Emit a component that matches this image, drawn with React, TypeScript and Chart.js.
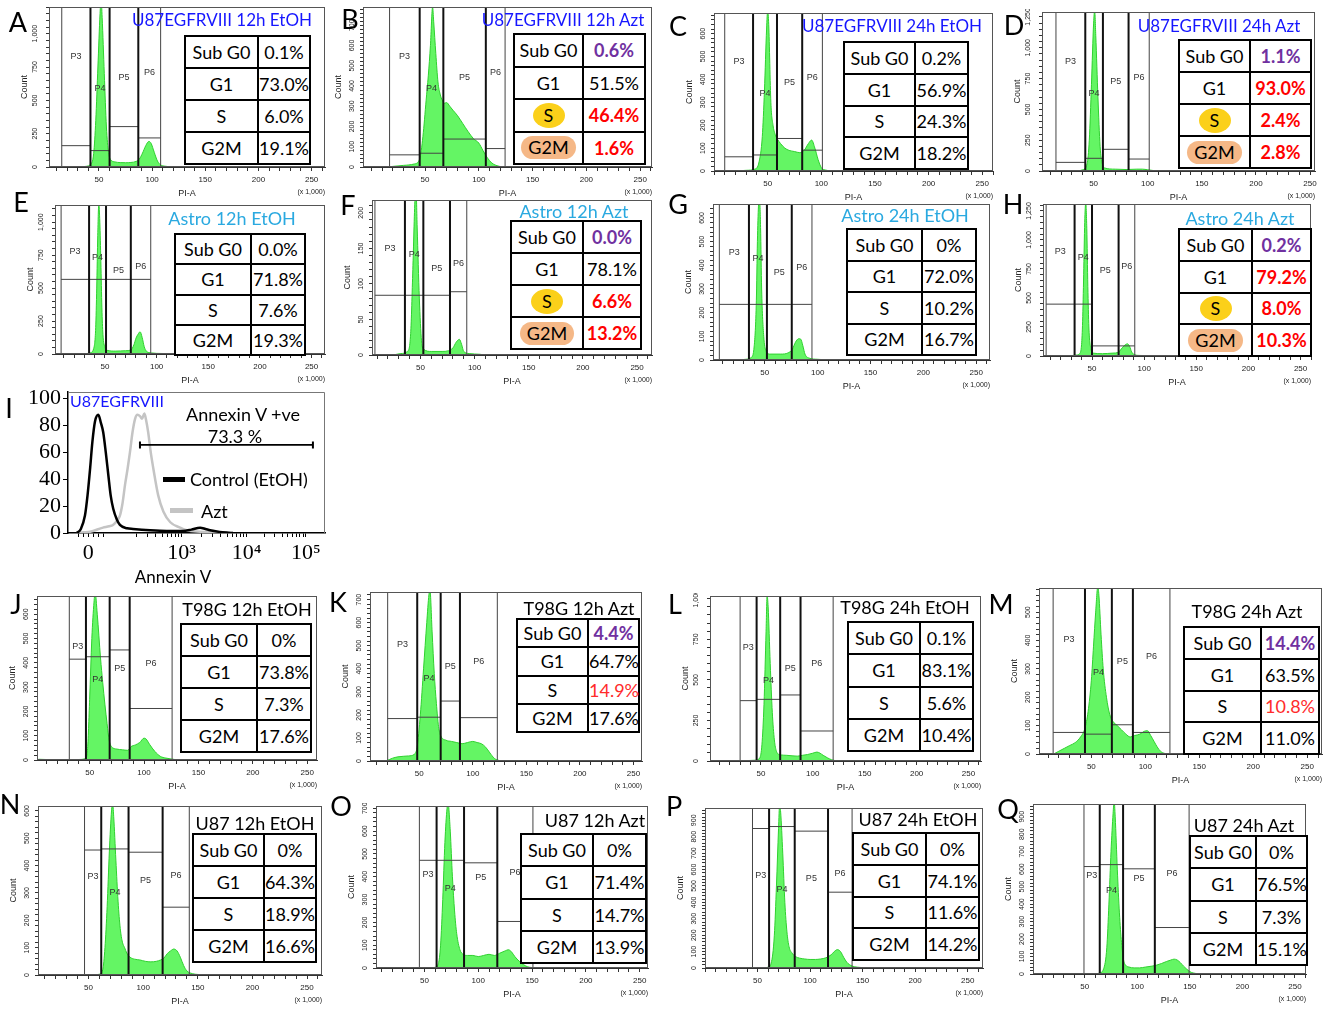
import React, { useEffect, useRef } from 'react';
import { Chart, registerables } from 'chart.js';

Chart.register(...registerables);

const SANS = "'Liberation Sans', Arial, sans-serif";
const LATO = "Lato, 'Open Sans', sans-serif";
const SERIF = "'Liberation Serif', 'Times New Roman', serif";
const BLUE = '#1616ff';
const SKY = '#2aa9e0';

const PHASES = ['Sub G0', 'G1', 'S', 'G2M'];
const GATE_NAMES = ['P3', 'P4', 'P5', 'P6'];
const X_TICKS = [0, 10, 20, 30, 40, 50, 60, 70, 80, 90, 100, 110, 120, 130, 140, 150, 160, 170, 180, 190, 200, 210, 220, 230, 240, 250, 260];

// ---------- histograms: [PI-A (x1000), count] ----------
const HIST_A = [[30,0],[38,5],[42,20],[45,100],[47,350],[49,750],[51,1150],[52,1260],[53,1120],[55,700],[57,300],[59,110],[61,55],[65,38],[70,33],[75,32],[80,34],[85,42],[88,60],[91,105],[94,160],[97,192],[99,178],[102,110],[105,45],[108,16],[112,6],[118,2],[125,0]];
const HIST_B = [[15,0],[20,3],[30,8],[40,15],[45,40],[48,150],[51,330],[53,450],[55,600],[57,790],[58,720],[60,560],[62,420],[64,360],[66,330],[68,315],[70,318],[73,300],[76,280],[80,255],[85,215],[90,175],[95,140],[100,118],[104,80],[108,45],[112,20],[116,8],[122,0]];
const HIST_C = [[20,0],[30,3],[38,8],[42,40],[45,150],[47,350],[49,620],[50,700],[51,640],[53,300],[55,200],[57,160],[59,140],[62,120],[66,100],[70,90],[75,85],[80,80],[84,90],[88,120],[91,135],[94,100],[97,50],[100,15],[104,4],[110,0]];
const HIST_D = [[35,0],[40,10],[44,60],[46,250],[48,700],[50,1200],[51,1300],[52,1100],[54,600],[56,200],[58,60],[60,25],[70,15],[80,12],[90,15],[95,15],[100,10],[105,4],[112,0]];
const HIST_E = [[25,0],[32,3],[36,10],[39,40],[41,200],[42,500],[43,900],[44,1140],[45,1000],[46,700],[47,350],[48,150],[50,50],[52,28],[60,22],[70,25],[75,30],[78,70],[80,120],[82,150],[84,168],[86,125],[88,55],[90,22],[95,8],[105,4],[115,2],[125,0]];
const HIST_F = [[25,0],[32,2],[38,5],[41,30],[43,120],[45,220],[46,230],[47,180],[49,80],[51,20],[53,8],[60,5],[70,5],[76,6],[80,10],[83,18],[86,22],[88,15],[90,5],[95,2],[105,1],[110,0]];
const HIST_G = [[25,0],[32,3],[37,10],[40,60],[42,250],[43,500],[44,650],[45,680],[46,560],[47,300],[49,100],[51,40],[55,25],[65,25],[72,30],[76,45],[79,75],[82,90],[84,88],[86,60],[88,25],[92,8],[100,3],[110,0]];
const HIST_H = [[25,0],[30,3],[35,8],[38,20],[40,100],[41,300],[42,700],[43,1150],[44,1320],[45,1100],[46,600],[47,250],[49,60],[51,25],[60,20],[70,25],[75,30],[78,60],[81,90],[84,105],[86,85],[88,35],[91,10],[95,5],[105,3],[112,0]];
const HIST_J = [[3,3],[10,2],[20,1],[40,2],[46,5],[48,40],[50,250],[52,500],[54,650],[55,690],[57,600],[60,420],[62,320],[64,230],[66,150],[68,80],[70,55],[75,45],[80,42],[85,40],[88,55],[92,62],[96,72],[100,90],[102,86],[105,65],[110,35],[115,15],[120,8],[125,4],[130,1],[135,0]];
const HIST_K = [[20,2],[25,12],[30,18],[40,22],[45,28],[48,60],[51,200],[54,400],[57,600],[59,720],[60,740],[62,560],[64,380],[66,250],[68,150],[70,110],[75,90],[80,85],[85,80],[90,75],[95,80],[100,85],[104,80],[108,75],[112,60],[116,35],[120,12],[124,3],[128,0]];
const HIST_L = [[25,0],[35,2],[45,5],[49,20],[51,100],[53,350],[55,800],[56,1020],[57,950],[59,600],[61,300],[63,130],[65,60],[68,40],[75,35],[80,32],[85,30],[90,35],[95,40],[100,48],[104,55],[107,48],[110,35],[114,20],[118,8],[122,2],[126,0]];
const HIST_M = [[15,0],[20,10],[25,20],[30,30],[35,40],[40,60],[44,90],[47,150],[50,260],[52,380],[54,500],[56,590],[57,560],[59,420],[61,300],[64,200],[67,140],[70,115],[74,100],[78,85],[82,70],[86,60],[90,65],[95,70],[99,80],[102,82],[105,65],[108,45],[111,25],[114,10],[118,2],[122,0]];
const HIST_N = [[55,0],[60,3],[63,20],[65,100],[67,250],[69,450],[71,600],[72,630],[73,580],[75,420],[77,270],[79,170],[81,120],[83,100],[85,80],[88,65],[92,58],[97,55],[102,50],[107,48],[112,50],[116,55],[119,62],[122,78],[125,88],[128,95],[131,88],[134,65],[137,35],[140,15],[145,5],[150,2],[158,1],[162,0]];
const HIST_O = [[55,0],[60,3],[63,20],[65,100],[67,300],[69,550],[71,700],[72,720],[74,600],[76,400],[78,250],[80,150],[83,80],[86,60],[90,55],[95,55],[100,50],[105,55],[110,60],[115,55],[120,65],[125,75],[128,80],[131,70],[134,50],[138,30],[142,15],[146,5],[150,2],[155,0]];
const HIST_P = [[55,0],[60,5],[63,30],[66,200],[68,500],[70,850],[71,990],[72,950],[74,700],[76,400],[78,220],[80,130],[83,90],[86,70],[90,60],[95,55],[100,52],[105,52],[110,55],[115,62],[120,80],[123,100],[126,112],[129,100],[132,65],[135,35],[140,12],[145,5],[150,2],[158,0]];
const HIST_Q = [[60,0],[64,5],[68,30],[71,150],[73,400],[75,700],[77,920],[78,990],[79,900],[81,600],[83,350],[85,180],[87,80],[89,50],[92,40],[97,35],[102,35],[108,40],[114,45],[118,50],[123,60],[128,72],[132,80],[135,85],[138,80],[141,65],[144,45],[147,28],[150,14],[153,6],[158,2],[165,0]];

// ---------- gates P3..P6: [from, to, level] ----------
const GATES_A = [[15,42,160],[42,60,123],[60,87,303],[87,108,218]];
const GATES_B = [[17,45,60],[45,67,68],[67,106.5,138],[106.5,124.4,91]];
const GATES_C = [[10,36.4,62],[36.4,58.7,70],[58.7,82.2,142],[82.2,101,91]];
const GATES_D = [[15.2,42.3,70],[42.3,58.6,103],[58.6,82.3,176],[82.3,101.4,97]];
const GATES_E = [[7.5,34.6,566],[34.6,51,566],[51,75,566],[75,94.3,566]];
const GATES_F = [[8,35.7,84],[35.7,52.7,84],[52.7,77.3,84],[77.3,92.8,89]];
const GATES_G = [[7,35,235],[35,52,235],[52,75.5,235],[75.5,94.6,235]];
const GATES_H = [[6,33.3,447],[33.3,50,447],[50,75.5,87],[75.5,91,87]];
const GATES_J = [[31.3,46.6,415],[46.6,68.4,425],[68.4,86.8,453],[86.8,125.8,212]];
const GATES_K = [[20.5,48.1,184],[48.1,70,190],[70,88,260],[88,122.9,188]];
const GATES_L = [[30,45.9,372],[45.9,68.6,380],[68.6,88.2,407],[88.2,119.6,185]];
const GATES_M = [[14.6,44.1,76],[44.1,69,70],[69,88.5,103],[88.5,122.8,76]];
const GATES_N = [[46.3,61.6,457],[61.6,86.6,461],[86.6,117.8,449],[117.8,142.2,248]];
const GATES_O = [[45.3,61.3,472],[61.3,86.8,472],[86.8,117.7,461],[117.7,150.8,204]];
const GATES_P = [[45.2,61,850],[61,85.4,862],[85.4,117.1,834],[117.1,140,462]];
const GATES_Q = [[49.3,64.3,615],[64.3,86.5,626],[86.5,116.7,602],[116.7,149.3,266]];

// ---------- table values (Sub G0, G1, S, G2M) ----------
const VALS_A = ['0.1%', '73.0%', '6.0%', '19.1%'];
const VALS_B = ['0.6%', '51.5%', '46.4%', '1.6%'];
const VALS_C = ['0.2%', '56.9%', '24.3%', '18.2%'];
const VALS_D = ['1.1%', '93.0%', '2.4%', '2.8%'];
const VALS_E = ['0.0%', '71.8%', '7.6%', '19.3%'];
const VALS_F = ['0.0%', '78.1%', '6.6%', '13.2%'];
const VALS_G = ['0%', '72.0%', '10.2%', '16.7%'];
const VALS_H = ['0.2%', '79.2%', '8.0%', '10.3%'];
const VALS_J = ['0%', '73.8%', '7.3%', '17.6%'];
const VALS_K = ['4.4%', '64.7%', '14.9%', '17.6%'];
const VALS_L = ['0.1%', '83.1%', '5.6%', '10.4%'];
const VALS_M = ['14.4%', '63.5%', '10.8%', '11.0%'];
const VALS_N = ['0%', '64.3%', '18.9%', '16.6%'];
const VALS_O = ['0%', '71.4%', '14.7%', '13.9%'];
const VALS_P = ['0%', '74.1%', '11.6%', '14.2%'];
const VALS_Q = ['0%', '76.5%', '7.3%', '15.1%'];

// ---------- Annexin V overlay (x in display channel units 0..1000, y % of max) ----------
const ANNEX_CONTROL = [[34,0],[50,3],[66,13],[76,28],[86,48],[95,68],[105,83],[118,88],[128,82],[137,75],[147,60],[157,43],[166,28],[176,18],[190,10],[202,6],[230,3.5],[253,3],[319,2],[384,1.5],[447,1.5],[480,2.5],[514,4],[535,3],[553,2],[590,0.8],[617,0.3],[642,0]];
const ANNEX_AZT = [[34,0],[60,0.5],[86,1],[136,4],[160,5],[175,6],[190,9],[202,13],[212,22],[222,36],[232,48],[241,60],[251,75],[261,85],[270,88],[280,87],[288,85],[297,89],[304,84],[312,75],[322,60],[332,48],[351,28],[371,16],[398,8],[436,4],[462,2],[514,1],[579,0.5],[642,0]];
const ANNEX_BAR = [280, 953];
const ANNEX_BAR_LEVEL = 65.6;
const ANNEX_MAJOR = [79, 442, 695, 925];
const ANNEX_LABELS = ['0', '10\u00b3', '10\u2074', '10\u2075'];
const ANNEX_Y_TICKS = [0, 20, 40, 60, 80, 100];

// ---------- layout ----------
const LAB_TOP = [0.31, 0.51, 0.44, 0.41];
const LAB_ASTRO = [0.31, 0.35, 0.44, 0.41];
const LAB_U87 = [0.42, 0.51, 0.44, 0.41];

const FLOWS = [
  { id: 'A', box: [49, 7, 325, 167], xr: [3, 262.6], ymax: 1200, ystep: 250, hist: HIST_A, gates: GATES_A, lab: LAB_TOP, title: 'U87EGFRVIII 12h EtOH', tcolor: BLUE, tpos: [222, 19], tsize: 17, tbox: [184, 35, 311, 163], tcol: 257, vals: VALS_A, vstyle: 'nnnn', hl: false },
  { id: 'B', box: [363, 7, 652, 167], xr: [-7.7, 261], ymax: 790, ystep: 100, hist: HIST_B, gates: GATES_B, lab: LAB_TOP, title: 'U87EGFRVIII 12h Azt', tcolor: BLUE, tpos: [563, 19], tsize: 17, tbox: [513, 33, 646, 163], tcol: 582, vals: VALS_B, vstyle: 'pnrr', hl: true },
  { id: 'C', box: [714, 13, 993, 171], xr: [0, 260], ymax: 690, ystep: 100, hist: HIST_C, gates: GATES_C, lab: LAB_TOP, title: 'U87EGFRVIII 24h EtOH', tcolor: BLUE, tpos: [892, 25], tsize: 17, tbox: [843, 41, 969, 168], tcol: 914, vals: VALS_C, vstyle: 'nnnn', hl: false },
  { id: 'D', box: [1042, 12, 1315, 171], xr: [2.3, 254.6], ymax: 1290, ystep: 250, hist: HIST_D, gates: GATES_D, lab: LAB_TOP, title: 'U87EGFRVIII 24h Azt', tcolor: BLUE, tpos: [1219, 25], tsize: 17, tbox: [1178, 39, 1312, 167], tcol: 1249, vals: VALS_D, vstyle: 'prrr', hl: true },
  { id: 'E', box: [55, 205, 325, 354], xr: [1.6, 263], ymax: 1130, ystep: 250, hist: HIST_E, gates: GATES_E, lab: LAB_ASTRO, title: 'Astro 12h EtOH', tcolor: SKY, tpos: [232, 218], tsize: 18, tbox: [174, 233, 306, 354], tcol: 250, vals: VALS_E, vstyle: 'nnnn', hl: false },
  { id: 'F', box: [372, 200, 652, 355], xr: [5.3, 263.8], ymax: 218, ystep: 50, hist: HIST_F, gates: GATES_F, lab: LAB_ASTRO, title: 'Astro 12h Azt', tcolor: SKY, tpos: [574, 211], tsize: 18, tbox: [510, 220, 642, 348], tcol: 582, vals: VALS_F, vstyle: 'pnrr', hl: true },
  { id: 'G', box: [713, 204, 990, 360], xr: [1, 263], ymax: 659, ystep: 100, hist: HIST_G, gates: GATES_G, lab: LAB_ASTRO, title: 'Astro 24h EtOH', tcolor: SKY, tpos: [905, 215], tsize: 18, tbox: [846, 228, 977, 354], tcol: 921, vals: VALS_G, vstyle: 'nnnn', hl: false },
  { id: 'H', box: [1043, 204, 1311, 356], xr: [3, 260], ymax: 1310, ystep: 250, hist: HIST_H, gates: GATES_H, lab: LAB_ASTRO, title: 'Astro 24h Azt', tcolor: SKY, tpos: [1240, 218], tsize: 18, tbox: [1178, 228, 1312, 355], tcol: 1251, vals: VALS_H, vstyle: 'prrr', hl: true },
  { id: 'J', box: [37, 596, 317, 760], xr: [1.6, 259], ymax: 675, ystep: 100, hist: HIST_J, gates: GATES_J, lab: LAB_TOP, title: 'T98G 12h EtOH', tcolor: '#000', tpos: [247, 609], tsize: 18, tbox: [180, 623, 312, 751], tcol: 256, vals: VALS_J, vstyle: 'nnnn', hl: false },
  { id: 'K', box: [370, 592, 642, 761], xr: [4, 258], ymax: 733, ystep: 100, hist: HIST_K, gates: GATES_K, lab: LAB_TOP, title: 'T98G 12h Azt', tcolor: '#000', tpos: [579, 608], tsize: 18, tbox: [516, 618, 640, 731], tcol: 587, vals: VALS_K, vstyle: 'pnqn', hl: false },
  { id: 'L', box: [710, 596, 981, 761], xr: [1, 262], ymax: 1017, ystep: 250, hist: HIST_L, gates: GATES_L, lab: LAB_TOP, title: 'T98G 24h EtOH', tcolor: '#000', tpos: [905, 607], tsize: 18, tbox: [847, 621, 974, 750], tcol: 919, vals: VALS_L, vstyle: 'nnnn', hl: false },
  { id: 'M', box: [1039, 588, 1322, 754], xr: [1.5, 263.7], ymax: 585, ystep: 100, hist: HIST_M, gates: GATES_M, lab: LAB_TOP, title: 'T98G 24h Azt', tcolor: '#000', tpos: [1247, 611], tsize: 18, tbox: [1183, 626, 1320, 753], tcol: 1260, vals: VALS_M, vstyle: 'pnqn', hl: false },
  { id: 'N', box: [38, 806, 322, 975], xr: [3.7, 263.7], ymax: 618, ystep: 100, hist: HIST_N, gates: GATES_N, lab: LAB_U87, title: 'U87 12h EtOH', tcolor: '#000', tpos: [255, 823], tsize: 18, tbox: [192, 833, 317, 961], tcol: 263, vals: VALS_N, vstyle: 'nnnn', hl: false },
  { id: 'O', box: [376, 806, 648, 968], xr: [5, 257.7], ymax: 710, ystep: 100, hist: HIST_O, gates: GATES_O, lab: LAB_U87, title: 'U87 12h Azt', tcolor: '#000', tpos: [595, 820], tsize: 18, tbox: [520, 833, 647, 962], tcol: 592, vals: VALS_O, vstyle: 'nnnn', hl: false },
  { id: 'P', box: [705, 808, 983, 968], xr: [0, 264.6], ymax: 975, ystep: 100, hist: HIST_P, gates: GATES_P, lab: LAB_U87, title: 'U87 24h EtOH', tcolor: '#000', tpos: [918, 819], tsize: 18, tbox: [852, 832, 980, 959], tcol: 925, vals: VALS_P, vstyle: 'nnnn', hl: false },
  { id: 'Q', box: [1033, 804, 1306, 974], xr: [0.8, 260.5], ymax: 973, ystep: 100, hist: HIST_Q, gates: GATES_Q, lab: LAB_U87, title: 'U87 24h Azt', tcolor: '#000', tpos: [1244, 825], tsize: 18, tbox: [1189, 835, 1308, 964], tcol: 1255, vals: VALS_Q, vstyle: 'nnnn', hl: false },
];

const LETTERS = [
  ['A', 18, 21], ['B', 350, 18], ['C', 678, 25], ['D', 1014, 24],
  ['E', 21, 201], ['F', 348, 204], ['G', 678, 203], ['H', 1013, 203],
  ['I', 9, 407],
  ['J', 16, 603], ['K', 338, 601], ['L', 675, 603], ['M', 1001, 603],
  ['N', 10, 803], ['O', 341, 805], ['P', 674, 805], ['Q', 1008, 808],
];

const YW = 30;
const XH = 33;
const PT = 3;
const PR = 3;

function fmtCount(v) {
  return Math.round(v).toLocaleString('en-US');
}

function FlowChart({ p }) {
  const ref = useRef(null);
  const [L, T, R, B] = p.box;
  const cw = R - L + YW + PR;
  const ch = B - T + XH + PT;
  useEffect(() => {
    const canvas = ref.current;
    if (!canvas) return;
    const [xmin, xmax] = p.xr;
    const counts = new Map();
    p.gates.forEach((g) => {
      [g[0], g[1]].forEach((v) => counts.set(v, (counts.get(v) || 0) + 1));
    });
    const thickPts = [];
    const thinPts = [];
    counts.forEach((n, v) => {
      const arr = n > 1 ? thickPts : thinPts;
      arr.push({ x: v, y: 0 }, { x: v, y: p.ymax }, { x: v, y: null });
    });
    p.gates.forEach((g) => {
      thinPts.push({ x: g[0], y: g[2] }, { x: g[1], y: g[2] }, { x: g[1], y: null });
    });
    const minor = p.ystep / 5;
    const yTicks = [];
    for (let i = 0; i * minor <= p.ymax + 1e-9; i++) yTicks.push({ value: i * minor });

    const deco = {
      id: 'deco',
      afterDatasetsDraw(chart) {
        const { ctx, chartArea: a, scales } = chart;
        const x = scales.x;
        ctx.save();
        ctx.strokeStyle = '#555';
        ctx.lineWidth = 1;
        ctx.strokeRect(a.left + 0.5, a.top + 0.5, a.right - a.left - 1, a.bottom - a.top - 1);
        ctx.font = `9px ${SANS}`;
        ctx.fillStyle = '#333';
        ctx.textAlign = 'center';
        ctx.textBaseline = 'middle';
        p.gates.forEach((g, i) => {
          const cx = x.getPixelForValue((g[0] + g[1]) / 2);
          const cy = a.top + p.lab[i] * (a.bottom - a.top);
          ctx.fillText(GATE_NAMES[i], cx, cy);
        });
        ctx.font = `7px ${SANS}`;
        ctx.fillStyle = '#222';
        ctx.textAlign = 'right';
        ctx.fillText('(x 1,000)', a.right, a.bottom + 25);
        ctx.restore();
      },
    };

    const chart = new Chart(canvas, {
      type: 'line',
      data: {
        datasets: [
          { data: thickPts, borderColor: '#111', borderWidth: 2, pointRadius: 0, fill: false, spanGaps: false, order: 0 },
          { data: thinPts, borderColor: '#444', borderWidth: 1, pointRadius: 0, fill: false, spanGaps: false, order: 1 },
          {
            data: p.hist.map(([x, y]) => ({ x, y })),
            borderColor: '#2fd12f',
            borderWidth: 1,
            backgroundColor: '#64f564',
            fill: 'origin',
            pointRadius: 0,
            cubicInterpolationMode: 'monotone',
            order: 2,
          },
        ],
      },
      options: {
        animation: false,
        responsive: false,
        maintainAspectRatio: false,
        events: [],
        layout: { padding: { top: PT, right: PR, left: 0, bottom: 0 } },
        plugins: { legend: { display: false }, tooltip: { enabled: false } },
        scales: {
          x: {
            type: 'linear',
            min: xmin,
            max: xmax,
            bounds: 'data',
            afterBuildTicks: (s) => {
              s.ticks = X_TICKS.filter((v) => v >= xmin && v <= xmax).map((v) => ({ value: v }));
            },
            afterFit: (s) => {
              s.height = XH;
              s.paddingLeft = 0;
              s.paddingRight = 0;
            },
            ticks: {
              autoSkip: false,
              maxRotation: 0,
              minRotation: 0,
              padding: 4,
              color: '#222',
              font: { family: SANS, size: 8 },
              callback: (v) => (v % 50 === 0 && v > 0 ? String(v) : ''),
            },
            grid: { drawOnChartArea: false, drawTicks: true, tickLength: 4, color: '#333' },
            border: { color: '#333', width: 1 },
            title: { display: true, text: 'PI-A', color: '#222', font: { family: SANS, size: 9 }, padding: { top: 0, bottom: 1 } },
          },
          y: {
            type: 'linear',
            min: 0,
            max: p.ymax,
            bounds: 'data',
            afterBuildTicks: (s) => {
              s.ticks = yTicks.slice();
            },
            afterFit: (s) => {
              s.width = YW;
              s.paddingTop = 0;
              s.paddingBottom = 0;
            },
            ticks: {
              autoSkip: false,
              minRotation: 90,
              maxRotation: 90,
              crossAlign: 'center',
              padding: 2,
              color: '#222',
              font: { family: SANS, size: 7 },
              callback: (v) => (Math.abs(v / p.ystep - Math.round(v / p.ystep)) < 1e-6 ? fmtCount(v) : ''),
            },
            grid: { drawOnChartArea: false, drawTicks: true, tickLength: 3, color: '#333' },
            border: { color: '#333', width: 1 },
            title: { display: true, text: 'Count', color: '#222', font: { family: SANS, size: 9 }, padding: { top: 0, bottom: 0 } },
          },
        },
      },
      plugins: [deco],
    });
    return () => chart.destroy();
  }, [p]);
  return (
    <canvas
      ref={ref}
      width={cw}
      height={ch}
      style={{ position: 'absolute', left: L - YW, top: T - PT, width: cw, height: ch }}
    />
  );
}

const VALUE_STYLE = {
  n: { color: '#000', fontWeight: 400 },
  p: { color: '#7030a0', fontWeight: 700 },
  r: { color: '#ff0000', fontWeight: 700 },
  q: { color: '#ff2b2b', fontWeight: 400 },
};

function PhaseLabel({ text, hl }) {
  if (hl && text === 'S') {
    return (
      <span style={{ display: 'inline-block', width: 32, height: 25, lineHeight: '25px', borderRadius: '50%', background: '#fbd01a' }}>S</span>
    );
  }
  if (hl && text === 'G2M') {
    return (
      <span style={{ display: 'inline-block', padding: '0 7px', height: 23, lineHeight: '23px', borderRadius: 12, background: '#f5b887' }}>G2M</span>
    );
  }
  return <span>{text}</span>;
}

function PhaseTable({ p }) {
  const [L, T, R, B] = p.tbox;
  const rowH = (B - T) / 4;
  const cell = {
    border: '2px solid #000',
    padding: 0,
    textAlign: 'center',
    verticalAlign: 'middle',
    lineHeight: 1,
    whiteSpace: 'nowrap',
  };
  return (
    <table
      style={{
        position: 'absolute',
        left: L,
        top: T,
        width: R - L,
        height: B - T,
        borderCollapse: 'collapse',
        tableLayout: 'fixed',
        background: '#fff',
        fontFamily: LATO,
        fontSize: 18,
        color: '#000',
      }}
    >
      <colgroup>
        <col style={{ width: p.tcol - L }} />
        <col />
      </colgroup>
      <tbody>
        {PHASES.map((ph, i) => (
          <tr key={ph} style={{ height: rowH }}>
            <td style={cell}>
              <PhaseLabel text={ph} hl={p.hl} />
            </td>
            <td style={{ ...cell, ...VALUE_STYLE[p.vstyle[i]] }}>{p.vals[i]}</td>
          </tr>
        ))}
      </tbody>
    </table>
  );
}

function Txt({ x, y, text, size, color = '#000', align = 'center', family = LATO }) {
  const tx = align === 'center' ? '-50%' : align === 'right' ? '-100%' : '0';
  return (
    <div
      style={{
        position: 'absolute',
        left: x,
        top: y,
        transform: `translate(${tx},-50%)`,
        fontSize: size,
        lineHeight: 1,
        color,
        whiteSpace: 'nowrap',
        fontFamily: family,
      }}
    >
      {text}
    </div>
  );
}

function AnnexinChart() {
  const ref = useRef(null);
  const L = 68, T = 392, R = 325, B = 533;
  const AYW = 45, AXH = 52, APT = 4, APR = 4;
  const cw = R - L + AYW + APR;
  const ch = B - T + AXH + APT;
  useEffect(() => {
    const canvas = ref.current;
    if (!canvas) return;
    const decades = [189, 442, 695, 925];
    const minorTicks = [39, 59, 99, 119, 139];
    for (let d = 0; d < decades.length - 1; d++) {
      for (let m = 2; m <= 9; m++) minorTicks.push(decades[d] + Math.log10(m) * (decades[d + 1] - decades[d]));
    }
    const allTicks = [...ANNEX_MAJOR, ...minorTicks].sort((a, b) => a - b);
    const frame = {
      id: 'frame',
      afterDatasetsDraw(chart) {
        const { ctx, chartArea: a } = chart;
        ctx.save();
        ctx.strokeStyle = '#777';
        ctx.lineWidth = 1;
        ctx.beginPath();
        ctx.moveTo(a.left, a.top + 0.5);
        ctx.lineTo(a.right - 0.5, a.top + 0.5);
        ctx.lineTo(a.right - 0.5, a.bottom);
        ctx.stroke();
        ctx.restore();
      },
    };
    const caps = [
      { x: ANNEX_BAR[0], y: ANNEX_BAR_LEVEL - 2.6 }, { x: ANNEX_BAR[0], y: ANNEX_BAR_LEVEL + 2.6 }, { x: ANNEX_BAR[0], y: null },
      { x: ANNEX_BAR[1], y: ANNEX_BAR_LEVEL - 2.6 }, { x: ANNEX_BAR[1], y: ANNEX_BAR_LEVEL + 2.6 },
    ];
    const chart = new Chart(canvas, {
      type: 'line',
      data: {
        datasets: [
          { data: [{ x: ANNEX_BAR[0], y: ANNEX_BAR_LEVEL }, { x: ANNEX_BAR[1], y: ANNEX_BAR_LEVEL }], borderColor: '#000', borderWidth: 1.8, pointRadius: 0, fill: false },
          { data: caps, borderColor: '#000', borderWidth: 2, pointRadius: 0, fill: false, spanGaps: false },
          { data: ANNEX_CONTROL.map(([x, y]) => ({ x, y })), borderColor: '#000', borderWidth: 2.5, pointRadius: 0, fill: false, cubicInterpolationMode: 'monotone' },
          { data: ANNEX_AZT.map(([x, y]) => ({ x, y })), borderColor: '#c4c4c4', borderWidth: 2.5, pointRadius: 0, fill: false, cubicInterpolationMode: 'monotone' },
        ],
      },
      options: {
        animation: false,
        responsive: false,
        maintainAspectRatio: false,
        events: [],
        layout: { padding: { top: APT, right: APR, left: 0, bottom: 0 } },
        plugins: { legend: { display: false }, tooltip: { enabled: false } },
        scales: {
          x: {
            type: 'linear',
            min: 0,
            max: 1000,
            bounds: 'data',
            afterBuildTicks: (s) => {
              s.ticks = allTicks.map((v) => ({ value: v }));
            },
            afterFit: (s) => {
              s.height = AXH;
              s.paddingLeft = 0;
              s.paddingRight = 0;
            },
            ticks: {
              autoSkip: false,
              maxRotation: 0,
              minRotation: 0,
              padding: 3,
              color: '#000',
              font: { family: SERIF, size: 22 },
              callback: (v) => {
                const i = ANNEX_MAJOR.indexOf(v);
                return i >= 0 ? ANNEX_LABELS[i] : '';
              },
            },
            grid: { drawOnChartArea: false, drawTicks: true, tickLength: 4, color: '#000' },
            border: { color: '#000', width: 1.5 },
          },
          y: {
            type: 'linear',
            min: 0,
            max: 105,
            bounds: 'data',
            afterBuildTicks: (s) => {
              s.ticks = ANNEX_Y_TICKS.map((v) => ({ value: v }));
            },
            afterFit: (s) => {
              s.width = AYW;
              s.paddingTop = 0;
              s.paddingBottom = 0;
            },
            ticks: { autoSkip: false, padding: 2, color: '#000', font: { family: SERIF, size: 22 } },
            grid: { drawOnChartArea: false, drawTicks: true, tickLength: 5, color: '#000' },
            border: { color: '#000', width: 1.5 },
          },
        },
      },
      plugins: [frame],
    });
    return () => chart.destroy();
  }, []);
  return (
    <canvas
      ref={ref}
      width={cw}
      height={ch}
      style={{ position: 'absolute', left: L - AYW, top: T - APT, width: cw, height: ch }}
    />
  );
}

export default function App() {
  return (
    <div
      style={{
        position: 'absolute',
        left: 0,
        top: 0,
        width: 1326,
        height: 1011,
        background: '#fff',
        overflow: 'hidden',
        fontFamily: LATO,
      }}
    >
      {FLOWS.map((p) => (
        <FlowChart key={p.id} p={p} />
      ))}
      <AnnexinChart />
      {FLOWS.map((p) => (
        <PhaseTable key={'t' + p.id} p={p} />
      ))}
      {FLOWS.map((p) => (
        <Txt key={'h' + p.id} x={p.tpos[0]} y={p.tpos[1]} text={p.title} size={p.tsize} color={p.tcolor} />
      ))}
      {LETTERS.map(([t, x, y]) => (
        <Txt key={'l' + t} x={x} y={y} text={t} size={27} />
      ))}
      {/* Annexin V panel texts */}
      <Txt x={70} y={401} text="U87EGFRVIII" size={16} color={BLUE} align="left" />
      <Txt x={243} y={414} text="Annexin V +ve" size={18} />
      <Txt x={235} y={436} text="73.3 %" size={18} />
      <div style={{ position: 'absolute', left: 163, top: 477, width: 22, height: 5, background: '#000' }} />
      <Txt x={190} y={479} text="Control (EtOH)" size={18} align="left" />
      <div style={{ position: 'absolute', left: 170, top: 508, width: 23, height: 5, background: '#c4c4c4' }} />
      <Txt x={201} y={511} text="Azt" size={18} align="left" />
      <Txt x={173} y={576} text="Annexin V" size={17} />
    </div>
  );
}
